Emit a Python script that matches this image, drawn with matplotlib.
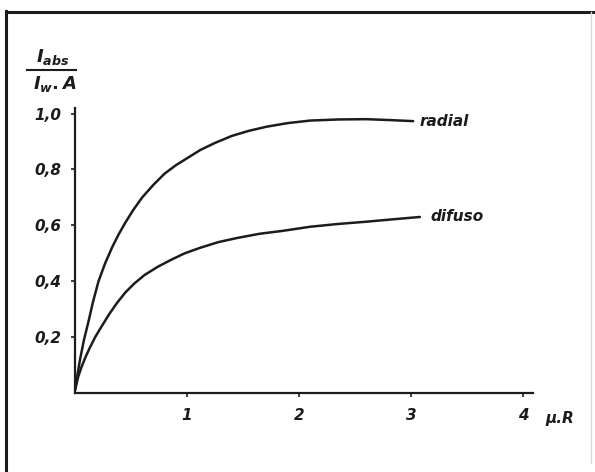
import numpy as np
import matplotlib
matplotlib.use("Agg")
import matplotlib.pyplot as plt
from matplotlib.lines import Line2D

# values
radial_x = [0.0, 0.02, 0.045, 0.08, 0.12, 0.16, 0.21, 0.27, 0.33, 0.39, 0.45, 0.52,
            0.60, 0.70, 0.80, 0.90, 1.00, 1.12, 1.25, 1.40, 1.55, 1.71, 1.90, 2.1,
            2.35, 2.6, 2.8, 3.02]
radial_y = [0.01, 0.06, 0.12, 0.19, 0.255, 0.325, 0.40, 0.465, 0.52, 0.568, 0.61, 0.655,
            0.70, 0.745, 0.785, 0.815, 0.84, 0.87, 0.895, 0.92, 0.938, 0.953, 0.966, 0.975,
            0.979, 0.98, 0.977, 0.973]
difuso_x = [0.0, 0.03, 0.06, 0.09, 0.13, 0.18, 0.24, 0.31, 0.38, 0.45, 0.53, 0.62,
            0.74, 0.86, 0.98, 1.12, 1.28, 1.45, 1.65, 1.85, 2.1, 2.35, 2.6, 2.85, 3.08]
difuso_y = [0.01, 0.06, 0.095, 0.125, 0.16, 0.20, 0.24, 0.285, 0.325, 0.36, 0.392, 0.422,
            0.452, 0.477, 0.50, 0.52, 0.54, 0.555, 0.57, 0.58, 0.595, 0.605, 0.613, 0.622, 0.63]
xticks = [1, 2, 3, 4]
yticks = [0.2, 0.4, 0.6, 0.8, 1.0]
ytick_labels = ['0,2', '0,4', '0,6', '0,8', '1,0']

INK = '#1c1c1c'
W, H = 595, 472

plt.rcParams['font.family'] = ['DejaVu Sans']
plt.rcParams['mathtext.fontset'] = 'custom'
plt.rcParams['mathtext.it'] = 'DejaVu Sans:italic:bold'
plt.rcParams['mathtext.rm'] = 'DejaVu Sans:bold'

fig = plt.figure(figsize=(W / 100, H / 100), dpi=100)
ax = fig.add_axes([75 / W, (H - 393) / H, (533 - 75) / W, (393 - 108) / H])

ax.plot(radial_x, radial_y, color=INK, lw=1.8, solid_capstyle='round', solid_joinstyle='round')
ax.plot(difuso_x, difuso_y, color=INK, lw=1.8, solid_capstyle='round', solid_joinstyle='round')

ax.set_xlim(0, 4.09)
ax.set_ylim(0, 1.02)
for s in ['top', 'right']:
    ax.spines[s].set_visible(False)
for s in ['left', 'bottom']:
    ax.spines[s].set_linewidth(1.6)
    ax.spines[s].set_color(INK)

ax.set_xticks(xticks)
ax.set_xticklabels([str(v) for v in xticks])
ax.set_yticks(yticks)
ax.set_yticklabels(ytick_labels)
ax.tick_params(axis='both', direction='out', length=3, width=1.2, color=INK,
               labelsize=11, labelcolor=INK)
ax.tick_params(axis='y', pad=7)
ax.tick_params(axis='x', pad=8)
for lab in ax.get_xticklabels() + ax.get_yticklabels():
    lab.set_fontstyle('italic')
    lab.set_fontweight('bold')

lab_kw = dict(fontsize=11, fontstyle='italic', fontweight='bold', color=INK,
              va='center', ha='left', clip_on=False)
ax.text(3.08, 0.97, 'radial', **lab_kw)
ax.text(3.17, 0.63, 'difuso', **lab_kw)
ax.text(4.2, -0.09, 'µ.R', **lab_kw)

# y-axis quantity written as a fraction
fig.text(53 / W, 1 - 57 / H, r'$I_{abs}$', fontsize=13, ha='center', va='center', color=INK)
fig.text(55 / W, 1 - 84 / H, r'$I_{w}.A$', fontsize=13, ha='center', va='center', color=INK)
fig.add_artist(Line2D([27 / W, 76 / W], [1 - 70 / H, 1 - 70 / H], color=INK, lw=1.5))

# frame of the scan
fig.add_artist(Line2D([6 / W, 1.0], [1 - 12 / H, 1 - 12 / H], color=INK, lw=2.2))
fig.add_artist(Line2D([6 / W, 6 / W], [0.0, 1 - 11 / H], color=INK, lw=2.2))
fig.add_artist(Line2D([591 / W, 591 / W], [0.02, 1 - 12 / H], color='#d8d8d8', lw=1.0))

fig.savefig('out.png', dpi=100)
